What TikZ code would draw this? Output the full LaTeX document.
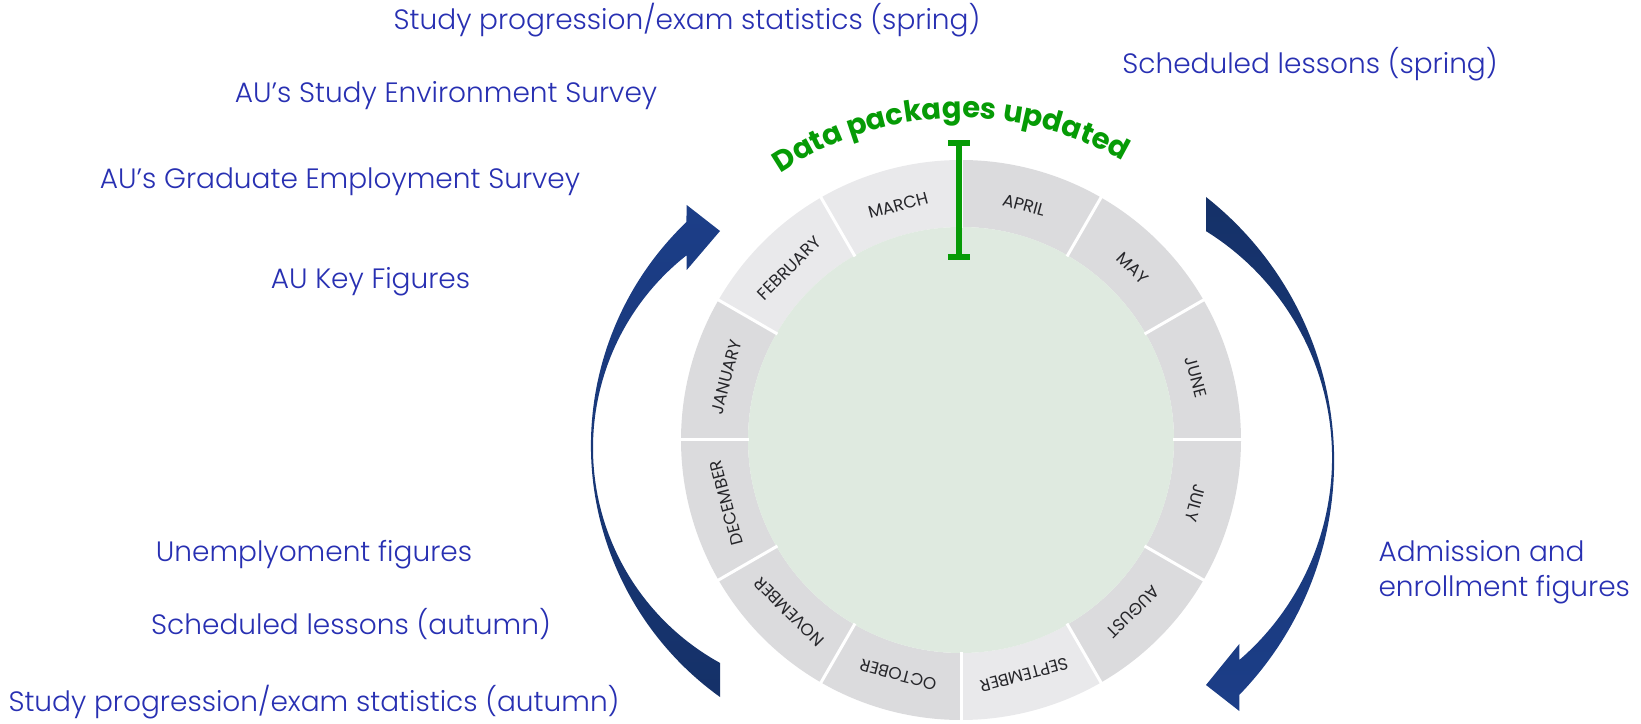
\documentclass[tikz,border=0pt]{standalone}
\usepackage{fontspec}
\setmainfont{Poppins}
\newfontfamily\thinfont{Poppins Light}
\usetikzlibrary{decorations.text}
\definecolor{labelblue}{RGB}{40,48,178}
\definecolor{updgreen}{RGB}{6,155,6}
\definecolor{arrowdark}{RGB}{21,49,104}
\definecolor{arrowlight}{RGB}{28,62,136}
\definecolor{ringgray}{RGB}{219,219,221}
\definecolor{ringlight}{RGB}{233,233,235}
\definecolor{hubgreen}{RGB}{223,234,224}
\definecolor{monthink}{RGB}{38,38,42}
\begin{document}
\begin{tikzpicture}[x=1pt,y=1pt,
  source/.style={font=\thinfont\fontsize{28}{34}\selectfont, text=labelblue, inner sep=0pt, anchor=base},
  monthlbl/.style={font=\fontsize{17}{19}\selectfont, text=monthink, inner sep=0pt},
  bar/.style={updgreen, line width=6pt}]
\useasboundingbox (0,0) rectangle (1641,723);

% ---- year wheel ----
\begin{scope}[shift={(961,283)}]
  \foreach \a/\m/\c in {60/APRIL/ringgray, 30/MAY/ringgray, 0/JUNE/ringgray,
      -30/JULY/ringgray, -60/AUGUST/ringgray, -90/SEPTEMBER/ringlight,
      -120/OCTOBER/ringgray, -150/NOVEMBER/ringgray, 180/DECEMBER/ringgray,
      150/JANUARY/ringgray, 120/FEBRUARY/ringlight, 90/MARCH/ringlight}{
    \fill[\c] (\a:280) arc[start angle=\a, end angle=\a+30, radius=280]
      -- (\a+30:213) arc[start angle=\a+30, end angle=\a, radius=213] -- cycle;
    \node[monthlbl, rotate=\a+15-90] (m-\m) at (\a+15:243) {\m};
  }
  \node[circle, fill=hubgreen, inner sep=0pt, minimum size=426pt] (hub) at (0,0) {};
  \foreach \a in {0,30,...,330}
    \draw[white, line width=3pt] (\a:212) -- (\a:281);

  % update marker and curved caption
  \coordinate (bartop) at (-2.2,297);
  \coordinate (barbot) at (-2.2,183.3);
  \draw[bar] (bartop) -- (barbot);
  \draw[bar] ([xshift=-11pt]bartop) -- ([xshift=11pt]bartop);
  \draw[bar] ([xshift=-11pt]barbot) -- ([xshift=11pt]barbot);
  \path[decorate, decoration={text along path, text align=center,
      text={|\color{updgreen}\bfseries\fontsize{29}{33}\selectfont|Data packages updated}}]
    (155:322) arc[start angle=155, end angle=29, radius=322];
\end{scope}

% ---- cycle arrows ----
\shade[top color=arrowlight, bottom color=arrowdark]
  (720,26) arc[start angle=-125.65, end angle=-226.25, radius=309.4]
  -- (686.7,518) -- (720,492) -- (686.7,453) -- (686.7,467.8)
  arc[start angle=-231.83, end angle=-118.82, radius=245.3] -- cycle;
\shade[top color=arrowdark, bottom color=arrowlight]
  (1206,526) arc[start angle=51.78, end angle=-44.13, radius=336]
  -- (1239.3,12) -- (1206,38) -- (1239.3,79) -- (1239.3,63)
  arc[start angle=-49.28, end angle=58.16, radius=266.8] -- cycle;

% ---- data sources ----
\node[source] (s1) at (687,693.7) {Study progression/exam statistics (spring)};
\node[source] (s2) at (1310,649.7) {Scheduled lessons (spring)};
\node[source] (s3) at (446,620.4) {AU’s Study Environment Survey};
\node[source] (s4) at (340,534.6) {AU’s Graduate Employment Survey};
\node[source] (s5) at (370.5,434.1) {AU Key Figures};
\node[source] (s6) at (314,161) {Unemplyoment figures};
\node[source] (s7) at (351,88.8) {Scheduled lessons (autumn)};
\node[source] (s8) at (314,11.3) {Study progression/exam statistics (autumn)};
\node[source, anchor=base west] (s9a) at (1378.3,161.3) {Admission and};
\node[source, anchor=base west] (s9b) at (1378.3,126.3) {enrollment figures};
\end{tikzpicture}
\end{document}
